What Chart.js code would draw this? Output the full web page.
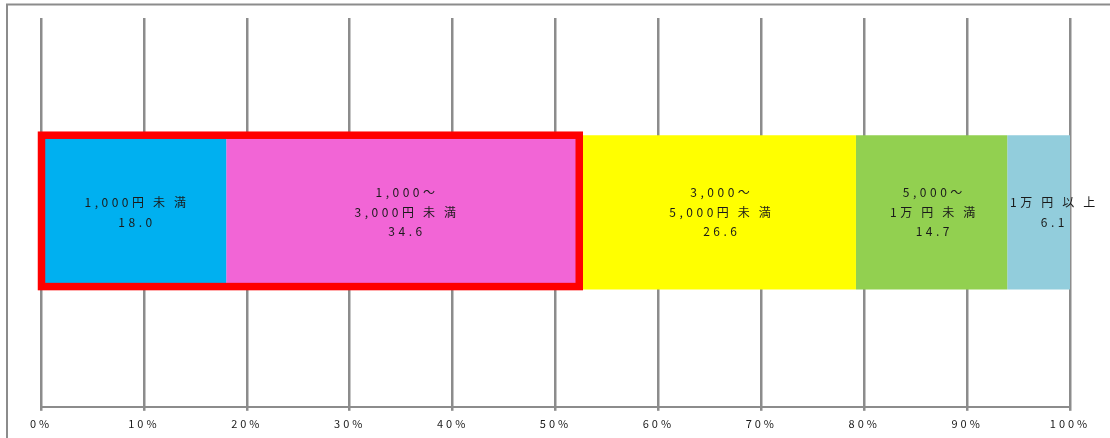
<!DOCTYPE html>
<html>
<head>
<meta charset="utf-8">
<script src="https://cdn.jsdelivr.net/npm/chart.js@4/dist/chart.umd.min.js"></script>
<style>
  html, body { margin: 0; padding: 0; background: #fff; }
  #wrap { width: 1110px; height: 438px; }
</style>
</head>
<body>
<div id="wrap"><canvas id="priceChart"></canvas></div>
<script>
const segmentLabels = [
    ['1,000円未満'],
    ['1,000～', '3,000円未満'],
    ['3,000～', '5,000円未満'],
    ['5,000～', '1万円未満'],
    ['1万円以上']
];
const segmentValues = [18.0, 34.6, 26.6, 14.7, 6.1];
const segmentColors = ['#00b0f0', '#f265d6', '#ffff00', '#92d050', '#92cddc'];
const highlightCount = 2; // first two segments get the red frame

const gray = '#8c8c8c';
const jpFont = '"Noto Sans CJK JP", "Noto Sans", sans-serif';

// draws text char by char, wider gaps after CJK glyphs
function drawSpaced(ctx, text, cx, y) {
    const chars = Array.from(text);
    const isWide = ch => ch.charCodeAt(0) > 0x2000;
    const widths = chars.map((ch, k) => ctx.measureText(ch).width + (k < chars.length - 1 ? (isWide(ch) ? 9 : 3.5) : 0));
    const total = widths.reduce((a, b) => a + b, 0);
    let x = cx - total / 2;
    chars.forEach((ch, k) => {
        ctx.fillText(ch, x, y);
        x += widths[k];
    });
}

// outer frame + letter spacing for the tick text
const framePlugin = {
    id: 'frame',
    beforeDraw(chart) {
        const ctx = chart.ctx;
        ctx.letterSpacing = '3px';
        ctx.save();
        ctx.strokeStyle = gray;
        ctx.lineWidth = 2;
        ctx.beginPath();
        ctx.moveTo(7, chart.height);
        ctx.lineTo(7, 4.5);
        ctx.lineTo(chart.width, 4.5);
        ctx.stroke();
        ctx.restore();
    }
};

// text inside the bars and the red highlight box
const barTextPlugin = {
    id: 'barText',
    afterDatasetsDraw(chart) {
        const ctx = chart.ctx;
        const xs = chart.scales.x;
        ctx.save();
        ctx.font = '12px ' + jpFont;
        ctx.fillStyle = '#1a1a1a';
        ctx.textAlign = 'left';
        ctx.textBaseline = 'middle';
        ctx.letterSpacing = '0px';
        const lineH = 19.5;
        segmentValues.forEach((v, i) => {
            const bar = chart.getDatasetMeta(i).data[0];
            let cx = (bar.x + bar.base) / 2 + 1;
            if (i === segmentValues.length - 1) cx += 13; // last label spills right, like the original
            const lines = segmentLabels[i].concat([v.toFixed(1)]);
            const y0 = bar.y - (lines.length - 1) * lineH / 2;
            lines.forEach((t, j) => drawSpaced(ctx, t, cx, y0 + j * lineH));
        });

        // red box round the highlighted segments
        const first = chart.getDatasetMeta(0).data[0];
        const last = chart.getDatasetMeta(highlightCount - 1).data[0];
        const top = first.y - first.height / 2;
        const bottom = first.y + first.height / 2;
        const x0 = xs.getPixelForValue(0);
        const x1 = last.x;
        ctx.strokeStyle = '#ff0000';
        ctx.lineWidth = 7.5;
        ctx.strokeRect(x0 + 0.5, top, x1 - x0 - 3.5, bottom - top - 3);
        ctx.restore();
    }
};

new Chart(document.getElementById('priceChart'), {
    type: 'bar',
    data: {
        labels: [''],
        datasets: segmentValues.map((v, i) => ({
            label: segmentLabels[i].join(''),
            data: [v],
            backgroundColor: segmentColors[i],
            borderWidth: 0,
            barPercentage: 1,
            categoryPercentage: 0.397
        }))
    },
    options: {
        indexAxis: 'y',
        responsive: true,
        maintainAspectRatio: false,
        animation: false,
        layout: { padding: { left: 41, right: 40, top: 18, bottom: 2 } },
        scales: {
            x: {
                stacked: true,
                min: 0,
                max: 100,
                ticks: {
                    stepSize: 10,
                    color: '#1a1a1a',
                    font: { family: jpFont, size: 11 },
                    padding: 6,
                    maxRotation: 0,
                    callback: v => v + '%'
                },
                grid: {
                    color: gray,
                    lineWidth: 2.5,
                    drawTicks: true,
                    tickLength: 4
                },
                border: { display: true, color: gray, width: 2 }
            },
            y: {
                stacked: true,
                display: false
            }
        },
        plugins: {
            legend: { display: false },
            tooltip: { enabled: false }
        }
    },
    plugins: [framePlugin, barTextPlugin]
});
</script>
</body>
</html>
